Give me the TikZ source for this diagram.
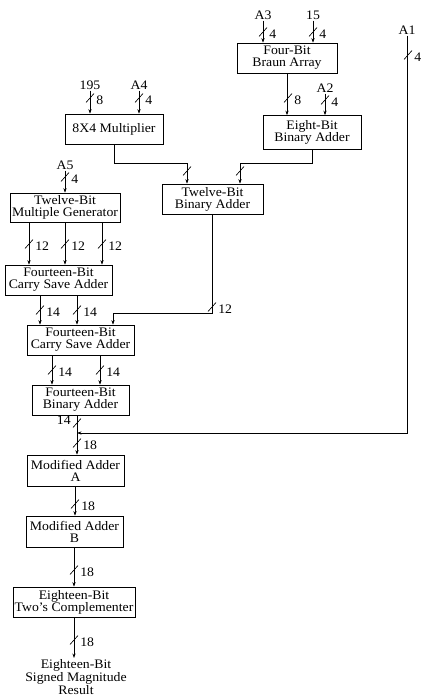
\documentclass[tikz,border=0pt]{standalone}
\usepackage{fontspec}
\setmainfont{Liberation Serif}[FakeStretch=1.06]
\usetikzlibrary{arrows.meta}
\newcommand\busr[4]{\draw (#2-4,#3+4.5) -- (#2+4,#3-4.5); \node[lbl,anchor=west] (#1) at (#2+5,#3+2) {#4};}
\newcommand\busl[4]{\draw (#2-4,#3+4.5) -- (#2+4,#3-4.5); \node[lbl,anchor=east] (#1) at (#2-5,#3-3) {#4};}
\newcommand\busn[2]{\draw (#1-4,#2+4.5) -- (#1+4,#2-4.5);}
\begin{document}
\begin{tikzpicture}[x=1pt,y=-1pt,
  font=\fontsize{13}{12}\selectfont, line width=0.65pt,
  blk/.style={draw, rectangle, inner sep=0pt, align=center},
  arr/.style={-{Stealth[length=4.5pt,width=3.2pt]}},
  lbl/.style={inner sep=1pt}]
\useasboundingbox (0,0) rectangle (420,698);
% boxes
\node[blk, minimum width=100, minimum height=30] (braun) at (287,58) {Four-Bit\\Braun Array};
\node[blk, minimum width=98, minimum height=34] (eight) at (312,132.5) {Eight-Bit\\Binary Adder};
\node[blk, minimum width=98, minimum height=30] (mult) at (114,129) {8X4 Multiplier};
\node[blk, minimum width=101, minimum height=30] (twelve) at (212.5,199) {Twelve-Bit\\Binary Adder};
\node[blk, minimum width=110, minimum height=29] (mgen) at (65,207.5) {Twelve-Bit\\Multiple Generator};
\node[blk, minimum width=107, minimum height=30] (csa1) at (58.5,280) {Fourteen-Bit\\Carry Save Adder};
\node[blk, minimum width=107, minimum height=30] (csa2) at (80.5,340) {Fourteen-Bit\\Carry Save Adder};
\node[blk, minimum width=97, minimum height=30] (fba) at (80.5,400) {Fourteen-Bit\\Binary Adder};
\node[blk, minimum width=97, minimum height=31] (moda) at (75.5,470.5) {Modified Adder\\A};
\node[blk, minimum width=97, minimum height=31] (modb) at (74.5,531.5) {Modified Adder\\B};
\node[blk, minimum width=122, minimum height=30] (twos) at (74,602) {Eighteen-Bit\\Two's Complementer};
\node[lbl, align=center, anchor=north, font=\fontsize{13}{13}\selectfont] (res) at (76,658) {Eighteen-Bit\\Signed Magnitude\\Result};
% input labels
\node[lbl] (a3) at (263,15) {A3};
\node[lbl] (i15) at (313,15) {15};
\node[lbl] (a2) at (325,88) {A2};
\node[lbl] (i195) at (90,85) {195};
\node[lbl] (a4) at (139,85) {A4};
\node[lbl] (a5) at (65,165) {A5};
\node[lbl] (a1) at (407,30) {A1};
% column coordinates
\coordinate (m1) at (187,163);
\coordinate (m2) at (240,163);
\coordinate (m3) at (113,313);
\coordinate (g1) at (29,0);
\coordinate (g2) at (65,0);
\coordinate (g3) at (102,0);
\coordinate (h1) at (40,0);
\coordinate (h2) at (77,0);
\coordinate (k1) at (52,0);
\coordinate (k2) at (100,0);
\coordinate (J) at (77,433);
\coordinate (c75) at (75,0);
\coordinate (c74) at (74,0);
% connectors
\draw[arr] (a3.south) -- (a3.south |- braun.north);
\draw[arr] (i15.south) -- (i15.south |- braun.north);
\draw[arr] (braun.south) -- (braun.south |- eight.north);
\draw[arr] (a2.south) -- (a2.south |- eight.north);
\draw[arr] (i195.south) -- (i195.south |- mult.north);
\draw[arr] (a4.south) -- (a4.south |- mult.north);
\draw[arr] (mult.south) |- (m1) -- (m1 |- twelve.north);
\draw[arr] (eight.south) |- (m2) -- (m2 |- twelve.north);
\draw[arr] (twelve.south) |- (m3) -- (m3 |- csa2.north);
\draw[arr] (a5.south) -- (a5.south |- mgen.north);
\draw[arr] (mgen.south -| g1) -- (csa1.north -| g1);
\draw[arr] (mgen.south -| g2) -- (csa1.north -| g2);
\draw[arr] (mgen.south -| g3) -- (csa1.north -| g3);
\draw[arr] (csa1.south -| h1) -- (csa2.north -| h1);
\draw[arr] (csa1.south -| h2) -- (csa2.north -| h2);
\draw[arr] (csa2.south -| k1) -- (fba.north -| k1);
\draw[arr] (csa2.south -| k2) -- (fba.north -| k2);
\draw (fba.south -| J) -- (J);
\draw[arr] (a1.south) |- (J);
\draw[arr] (J) -- (J |- moda.north);
\draw[arr] (moda.south -| c75) -- (modb.north -| c75);
\draw[arr] (modb.south -| c74) -- (twos.north -| c74);
\draw[arr] (twos.south) -- (res.north -| twos.south);
% bus marks
\busr{b1}{263}{32}{4}
\busr{b2}{313}{32}{4}
\busr{b3}{288}{98}{8}
\busr{b4}{325}{100}{4}
\busr{b5}{90}{98}{8}
\busr{b6}{139}{98}{4}
\busn{187}{171}
\busn{240}{171}
\busr{b7}{212}{307}{12}
\busr{b8}{65}{177}{4}
\busr{b9}{29}{244}{12}
\busr{b10}{65}{244}{12}
\busr{b11}{102}{244}{12}
\busr{b12}{40}{310}{14}
\busr{b13}{77}{310}{14}
\busr{b14}{52}{370}{14}
\busr{b15}{100}{370}{14}
\busl{b16}{77}{423}{14}
\busr{b17}{408}{55}{4}
\busr{b18}{77}{443}{18}
\busr{b19}{75}{504}{18}
\busr{b20}{74}{570}{18}
\busr{b21}{74}{640}{18}
\end{tikzpicture}
\end{document}
